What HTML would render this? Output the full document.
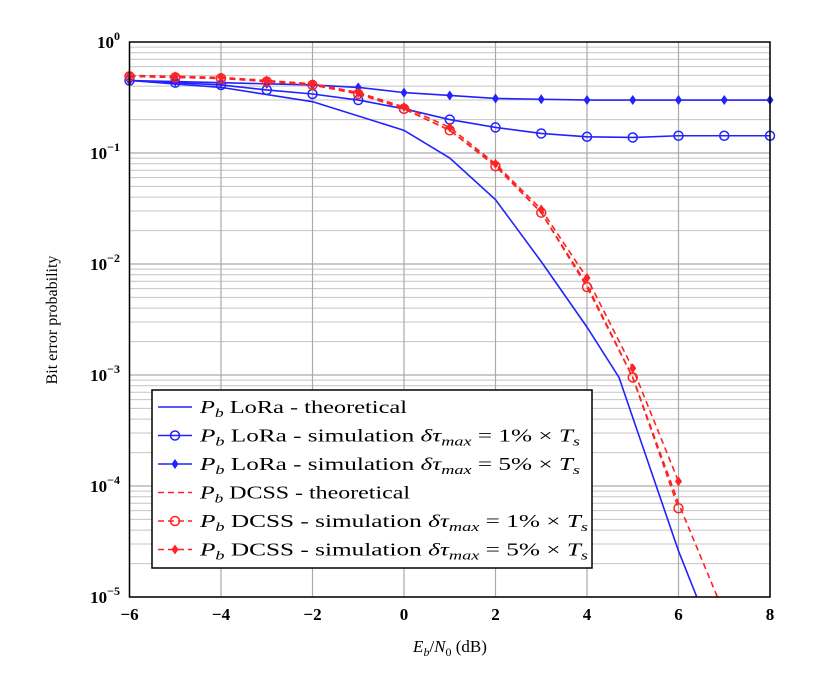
<!DOCTYPE html>
<html><head><meta charset="utf-8"><style>
body{margin:0;background:#fff;}
svg{display:block;font-family:"Liberation Serif",serif;}
</style></head><body>
<svg id="chart" width="816" height="674" viewBox="0 0 816 674" xmlns="http://www.w3.org/2000/svg">
<g id="grid"></g>
<g id="series"></g>
<rect x="129.5" y="42" width="640.5" height="555" fill="none" stroke="#000" stroke-width="1.5"/>
<g id="ticks" font-size="17" font-weight="bold"></g>
<text transform="translate(57,320) rotate(-90)" text-anchor="middle" font-size="16">Bit error probability</text>
<text x="450" y="652" text-anchor="middle" font-size="17"><tspan font-style="italic">E</tspan><tspan font-style="italic" font-size="12" dy="4">b</tspan><tspan dy="-4">/</tspan><tspan font-style="italic">N</tspan><tspan font-size="12" dy="4">0</tspan><tspan dy="-4"> (dB)</tspan></text>
<g id="legend"></g>
</svg>
<script>
const xs = [-6,-5,-4,-3,-2,-1,0,1,2,3,4,5,6,7,8];
const loraTheoX = [-6,-4,-2,0,1,2,3,4,4.7,6,6.4];
const loraTheoY = [0.45,0.39,0.29,0.16,0.09,0.038,0.0105,0.0027,0.00095,0.000026,0.00001];
const lora1 = [0.45,0.43,0.41,0.37,0.34,0.30,0.25,0.20,0.17,0.15,0.14,0.138,0.143,0.143,0.143];
const lora5 = [0.45,0.44,0.43,0.42,0.41,0.39,0.35,0.33,0.31,0.305,0.30,0.30,0.30,0.30,0.30];
const dcssTheoX = [-6,-4,-2,-1,0,1,2,3,4,5,6,6.85];
const dcssTheoY = [0.49,0.47,0.42,0.35,0.25,0.16,0.078,0.029,0.0065,0.00095,0.00007,0.00001];
const dcssX = [-6,-5,-4,-3,-2,-1,0,1,2,3,4,5,6];
const dcss1 = [0.49,0.48,0.47,0.44,0.41,0.34,0.25,0.16,0.076,0.029,0.0062,0.00095,0.000063];
const dcss5 = [0.50,0.49,0.48,0.45,0.42,0.35,0.26,0.17,0.08,0.031,0.0075,0.00115,0.00011];
const xTicks = [-6,-4,-2,0,2,4,6,8];
const yExps = [0,-1,-2,-3,-4,-5];

const X0=129.5,X1=770,Y0=42,Y1=597;
const sx=v=>X0+(v+6)/14*(X1-X0);
const sy=v=>Y0+(-Math.log10(v))/5*(Y1-Y0);
const NS="http://www.w3.org/2000/svg";
function mk(tag,attrs,parent){const e=document.createElementNS(NS,tag);for(const k in attrs)e.setAttribute(k,attrs[k]);parent.appendChild(e);return e;}
const grid=document.getElementById('grid'),ser=document.getElementById('series'),tk=document.getElementById('ticks'),lg=document.getElementById('legend');
for(let e=0;e>-5;e--){for(let m=1;m<10;m++){const v=m*Math.pow(10,e-1);const y=sy(v);
 const l=mk('line',{x1:X0,x2:X1,y1:y,y2:y,stroke:m===1?'#aaa':'#c4c4c4','stroke-width':m===1?1.2:1},grid);
 
 }}
xTicks.forEach(t=>{const x=sx(t);const l=mk('line',{x1:x,x2:x,y1:Y0,y2:Y1,stroke:'#aaa','stroke-width':1.2},grid);
 
 
 const tx=mk('text',{x:x,y:620,'text-anchor':'middle'},tk);tx.textContent=(t<0?'\u2212'+(-t):String(t));
 
 });
yExps.forEach(e=>{const y=sy(Math.pow(10,e));const tx=mk('text',{x:120,y:y+6,'text-anchor':'end'},tk);
 tx.innerHTML='10<tspan font-size="12" dy="-8">'+(e<0?'\u2212'+(-e):e)+'</tspan>';
 
 });
function line(xv,yv,color,dash,name){const pts=xv.map((x,i)=>sx(x)+','+sy(yv[i])).join(' ');
 const p=mk('polyline',{points:pts,fill:'none',stroke:color,'stroke-width':1.6,'stroke-dasharray':dash||'none'},ser);
 
 }
function marker(x,y,color,type,parent){
 if(type==='o'){const c=mk('circle',{cx:x,cy:y,r:4.5,fill:'none',stroke:color,'stroke-width':1.5},parent);
  
  }
 else{const d=mk('polygon',{points:`${x},${y-5} ${x+3.5},${y} ${x},${y+5} ${x-3.5},${y}`,fill:color},parent);
  
  }}
line(loraTheoX,loraTheoY,'#2222ff',null,'lora-theoretical-line');
line(xs,lora1,'#2222ff',null,'lora-sim-1pct-line');xs.forEach((x,i)=>marker(sx(x),sy(lora1[i]),'#2222ff','o',ser));
line(xs,lora5,'#2222ff',null,'lora-sim-5pct-line');xs.forEach((x,i)=>marker(sx(x),sy(lora5[i]),'#2222ff','d',ser));
line(dcssTheoX,dcssTheoY,'#ff2222','6 4','dcss-theoretical-line');
line(dcssX,dcss1,'#ff2222','6 4','dcss-sim-1pct-line');dcssX.forEach((x,i)=>marker(sx(x),sy(dcss1[i]),'#ff2222','o',ser));
line(dcssX,dcss5,'#ff2222','6 4','dcss-sim-5pct-line');dcssX.forEach((x,i)=>marker(sx(x),sy(dcss5[i]),'#ff2222','d',ser));
const box=mk('rect',{x:152,y:390,width:440,height:178,fill:'#fff',stroke:'#000','stroke-width':1.5},lg);


const sub='<tspan font-style="italic">δτ</tspan><tspan font-style="italic" font-size="13" dy="4">max</tspan><tspan dy="-4"> = </tspan>';
const ts=' × <tspan font-style="italic">T</tspan><tspan font-style="italic" font-size="13" dy="4">s</tspan>';
const entries=[['#2222ff',null,null,'LoRa - theoretical',207],['#2222ff',null,'o','LoRa - simulation '+sub+'1%'+ts,380],
['#2222ff',null,'d','LoRa - simulation '+sub+'5%'+ts,380],
['#ff2222','6 4',null,'DCSS - theoretical',210],['#ff2222','6 4','o','DCSS - simulation '+sub+'1%'+ts,388],
['#ff2222','6 4','d','DCSS - simulation '+sub+'5%'+ts,388]];
entries.forEach((e,i)=>{const y=407+i*28.5;const g=mk('g',{},lg);
 
 
 mk('line',{x1:158,x2:192,y1:y,y2:y,stroke:e[0],'stroke-width':1.6,'stroke-dasharray':e[1]||'none'},g);
 if(e[2])marker(175,y,e[0],e[2],g);
 const t=mk('text',{x:200,y:y+6,'font-size':18,textLength:e[4],lengthAdjust:'spacingAndGlyphs'},g);
 t.innerHTML='<tspan font-style="italic">P</tspan><tspan font-style="italic" font-size="13" dy="4">b</tspan><tspan dy="-4"> '+e[3]+'</tspan>';});
</script>
</body></html>
